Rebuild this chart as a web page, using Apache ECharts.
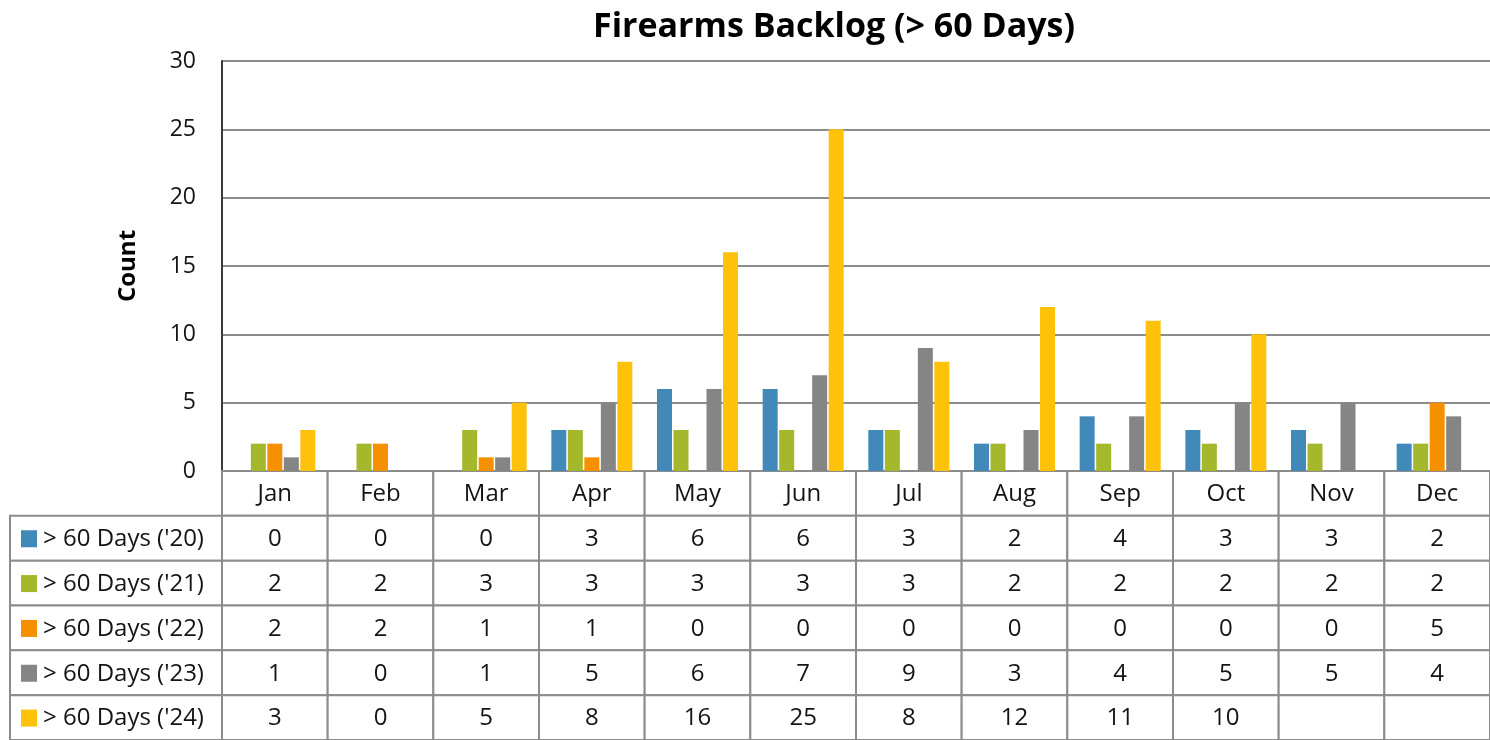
<!DOCTYPE html>
<html>
<head>
<meta charset="utf-8">
<script src="https://cdn.jsdelivr.net/npm/echarts@6/dist/echarts.min.js"></script>
<style>
html,body{margin:0;padding:0;background:#fff;}
#main{width:1490px;height:740px;}
</style>
</head>
<body>
<div id="main"></div>
<script>
const titleText = 'Firearms Backlog (> 60 Days)';
const months = ['Jan','Feb','Mar','Apr','May','Jun','Jul','Aug','Sep','Oct','Nov','Dec'];
const seriesNames = ["> 60 Days ('20)", "> 60 Days ('21)", "> 60 Days ('22)", "> 60 Days ('23)", "> 60 Days ('24)"];
const d20 = [0,0,0,3,6,6,3,2,4,3,3,2];
const d21 = [2,2,3,3,3,3,3,2,2,2,2,2];
const d22 = [2,2,1,1,0,0,0,0,0,0,0,5];
const d23 = [1,0,1,5,6,7,9,3,4,5,5,4];
const d24 = [3,0,5,8,16,25,8,12,11,10,null,null];
const yTicks = [0,5,10,15,20,25,30];
const colors = ['#4189B8','#A5B72A','#F59100','#858585','#FFC20A'];

const allData = [d20,d21,d22,d23,d24];
const FONT = '"Open Sans", Lato, sans-serif';
const gridLine = '#8c8c8c';

// table rows: 0 = header (months), 1..5 = series
const rowCats = ['hdr'].concat(seriesNames);

const tableCells = [];
months.forEach((m,i)=>{ tableCells.push({value:[i,0], text:m}); });
allData.forEach((arr,r)=>{
  arr.forEach((v,i)=>{ tableCells.push({value:[i,r+1], text: v==null ? '' : String(v)}); });
});
const labelCells = seriesNames.map((n,r)=>({value:[0,r+1], text:n, color:colors[r]}));

const chart = echarts.init(document.getElementById('main'), null, {renderer:'canvas'});

const barSeries = allData.map((arr,i)=>({
  type:'bar', name:seriesNames[i], data:arr, xAxisIndex:0, yAxisIndex:0,
  barWidth:15, barGap:'10%', itemStyle:{color:colors[i]}, silent:true
}));

function cellRender(cells){
  return function(params, api){
    const cell = cells[params.dataIndex];
    const c = api.coord([api.value(0), api.value(1)]);
    const s = api.size([1,1]);
    return {type:'group', children:[
      {type:'rect', shape:{x:c[0]-s[0]/2, y:c[1]-s[1]/2, width:s[0], height:s[1]},
       style:{fill:'#fff', stroke:gridLine, lineWidth:2}},
      {type:'text', style:{text:cell.text, x:c[0], y:c[1]+1, align:'center', verticalAlign:'middle',
       font:'24px '+FONT, fill:'#141414'}}
    ]};
  };
}
function labelRender(params, api){
  const cell = labelCells[params.dataIndex];
  const c = api.coord([api.value(0), api.value(1)]);
  const s = api.size([1,1]);
  const x0 = c[0]-s[0]/2;
  return {type:'group', children:[
    {type:'rect', shape:{x:x0, y:c[1]-s[1]/2, width:s[0], height:s[1]},
     style:{fill:'#fff', stroke:gridLine, lineWidth:2}},
    {type:'rect', shape:{x:x0+11, y:c[1]-8, width:16, height:17}, style:{fill:cell.color}},
    {type:'text', style:{text:cell.text, x:x0+33, y:c[1]+1, align:'left', verticalAlign:'middle',
     font:'24px '+FONT, fill:'#141414'}}
  ]};
}

const option = {
  backgroundColor:'#fff',
  animation:false,
  title:{text:titleText, left:829, top:5, textAlign:'center',
    textStyle:{fontFamily:FONT, fontSize:34, fontWeight:'bold', color:'#000'}},
  grid:[
    {left:222, top:61, width:1278, height:410},
    {left:222, top:471, width:1278, height:272},
    {left:10, top:471, width:212, height:272}
  ],
  xAxis:[
    {type:'category', gridIndex:0, data:months, axisLabel:{show:false}, axisTick:{show:false},
     axisLine:{lineStyle:{color:gridLine, width:2}}},
    {type:'category', gridIndex:1, data:months, show:false},
    {type:'category', gridIndex:2, data:[''], show:false}
  ],
  yAxis:[
    {type:'value', gridIndex:0, min:yTicks[0], max:yTicks[yTicks.length-1], interval:5,
     name:'Count', nameLocation:'middle', nameGap:82, nameRotate:90,
     nameTextStyle:{fontFamily:FONT, fontSize:24, fontWeight:'bold', color:'#000'},
     axisLabel:{fontFamily:FONT, fontSize:23, color:'#141414', margin:26},
     axisLine:{show:true, lineStyle:{color:'#3a3a3a', width:2}}, axisTick:{show:false},
     splitLine:{lineStyle:{color:gridLine, width:2}}},
    {type:'category', gridIndex:1, data:rowCats, inverse:true, show:false},
    {type:'category', gridIndex:2, data:rowCats, inverse:true, show:false}
  ],
  series: barSeries.concat([
    {type:'custom', xAxisIndex:1, yAxisIndex:1, data:tableCells.map(c=>c.value),
     renderItem:cellRender(tableCells), silent:true, z:1},
    {type:'custom', xAxisIndex:2, yAxisIndex:2, data:labelCells.map(c=>c.value),
     renderItem:labelRender, silent:true, z:1}
  ])
};
chart.setOption(option);
</script>
</body>
</html>
